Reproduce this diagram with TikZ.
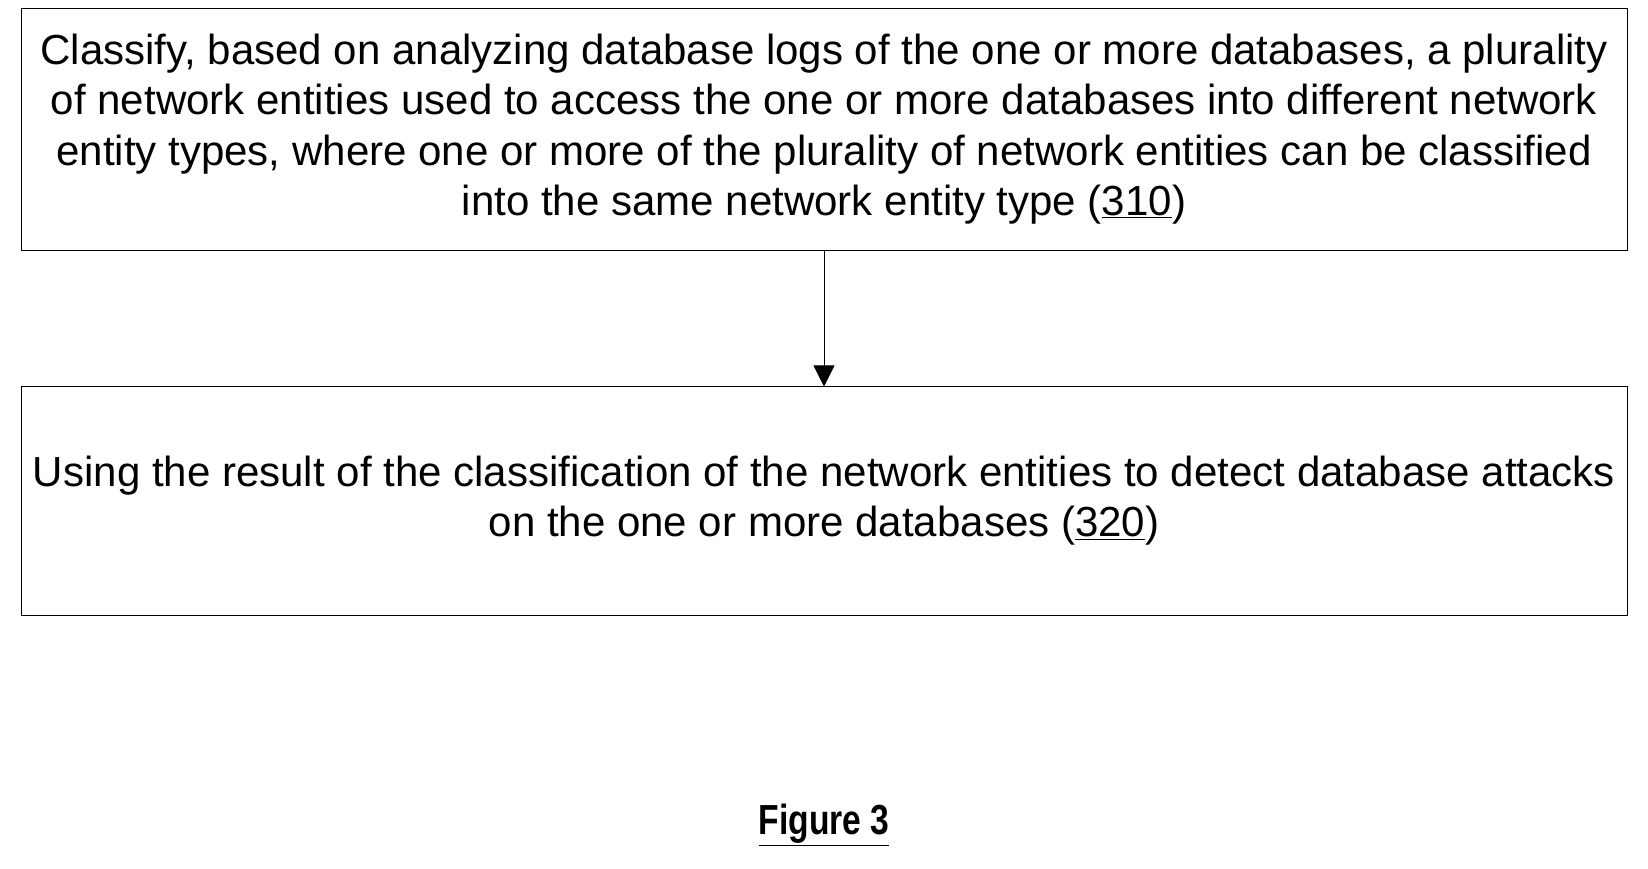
\documentclass[tikz,border=0pt]{standalone}
\usepackage{fontspec}
\setmainfont{Liberation Sans}
\usetikzlibrary{positioning,arrows.meta}
\begin{document}
\begin{tikzpicture}[x=1pt,y=1pt,yscale=-1,xscale=1]
\tikzset{
  stepbox/.style={draw,line width=0.6pt,minimum width=1528pt,align=center,
    font=\fontsize{40}{48}\selectfont,inner sep=0pt},
  flow/.style={-{Triangle[length=20pt,width=20pt]},line width=0.8pt}
}
\useasboundingbox (0,0) rectangle (1568,826);

%Box 310
\node [stepbox,line width=0.4pt,minimum height=230pt] (classify) at (784,123)
  {Classify, based on analyzing database logs of the one or more databases, a plurality\\
   of network entities used to access the one or more databases into different network\\
   entity types, where one or more of the plurality of network entities can be classified\\
   into the same network entity type (\underline{310})};

%Box 320
\node [stepbox,minimum height=217pt] (detect) at (784,476.5)
  {Using the result of the classification of the network entities to detect database attacks\\
   on the one or more databases (\underline{320})};

% Connection
\draw [flow] (classify) -- (detect);

% Caption
\node (caption) at (784,785) {\scalebox{0.8}[1]{\fontsize{40}{44}\selectfont\bfseries\underline{Figure 3}}};
\end{tikzpicture}
\end{document}
